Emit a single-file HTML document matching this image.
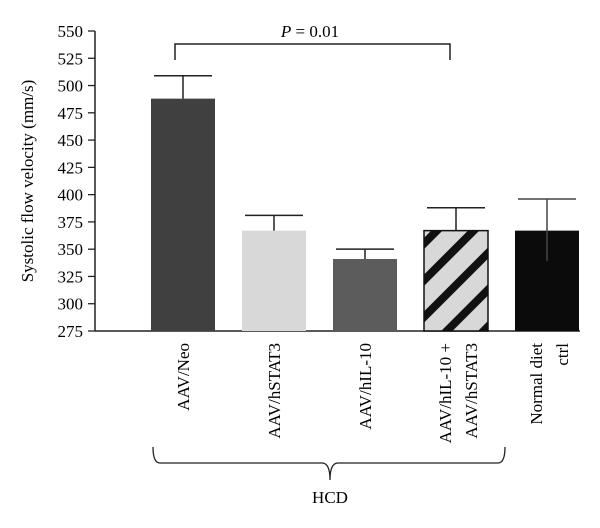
<!DOCTYPE html>
<html><head><meta charset="utf-8"><style>body{margin:0;background:#fff}svg{display:block;font-family:"Liberation Serif",serif}</style></head>
<body>
<svg width="600" height="528">
<defs><pattern id="stripe" patternUnits="userSpaceOnUse" width="26" height="26" patternTransform="rotate(45)"><rect width="26" height="26" fill="#d8d8d8"/><rect width="8" height="26" fill="#111"/></pattern></defs>
<g id="axes"></g><g id="bars"></g>
<text x="310" y="37" text-anchor="middle" font-size="17"><tspan font-style="italic">P</tspan> = 0.01</text>
<path d="M175 60 V44 H450 V60" fill="none" stroke="#222" stroke-width="1.5"/>
<text transform="translate(33,181) rotate(-90)" text-anchor="middle" font-size="17">Systolic flow velocity (mm/s)</text>
<path d="M153 447 Q153 463 160 463 H322 Q330 463 330 480 Q330 463 338 463 H498 Q505 463 505 447" fill="none" stroke="#222" stroke-width="1.3"/>
<text x="330" y="503" text-anchor="middle" font-size="17">HCD</text>
</svg>
<script>
const categories=[["AAV/Neo"],["AAV/hSTAT3"],["AAV/hIL-10"],["AAV/hIL-10 +","AAV/hSTAT3"],["Normal diet","ctrl"]];
const means=[488,367,341,367,367];
const errUp=[509,381,350,388,396];
const errDown=[488,367,341,367,339];
const ticks=[275,300,325,350,375,400,425,450,475,500,525,550];
const fills=["#404040","#d8d8d8","#5c5c5c","url(#stripe)","#0b0b0b"];
const ns="http://www.w3.org/2000/svg";
const y=v=>331-(v-275)*300/275;
const x=i=>151+i*91;
const bw=64;
const ax=document.getElementById('axes'),bg=document.getElementById('bars');
function mk(t,a,p){const e=document.createElementNS(ns,t);for(const k in a)e.setAttribute(k,a[k]);p.appendChild(e);return e;}
const yl=mk('line',{x1:95,y1:31,x2:95,y2:331,stroke:'#222','stroke-width':1.5},ax);


const xl=mk('line',{x1:95,y1:331,x2:580,y2:331,stroke:'#222','stroke-width':1.5},ax);


ticks.forEach(t=>{
 const l=mk('line',{x1:88,y1:y(t),x2:95,y2:y(t),stroke:'#222','stroke-width':1.3},ax);
 
 
 const tx=mk('text',{x:83,y:y(t)+6,'text-anchor':'end','font-size':17},ax);
 tx.textContent=t;
 
 
});
means.forEach((m,i)=>{
 const cx=x(i)+bw/2;
 const r=mk('rect',{x:x(i),y:y(m),width:bw,height:331-y(m),fill:fills[i],stroke:i==3?'#111':'none','stroke-width':1.5},bg);
 
 
 const e=mk('path',{d:`M${cx} ${y(errDown[i])} V${y(errUp[i])} M${cx-29} ${y(errUp[i])} H${cx+29}`,stroke:i==4?'#444':'#222','stroke-width':1.5,fill:'none'},bg);
 
 
 const lines=categories[i];
 lines.forEach((s,j)=>{
  const lx=cx+(lines.length==1?0:(j==0?-11:15))+6;
  const t=mk('text',{transform:`translate(${lx},343) rotate(-90)`,'text-anchor':'end','font-size':17},bg);
  t.textContent=s;
  
  
 });
});
</script>
</body></html>
